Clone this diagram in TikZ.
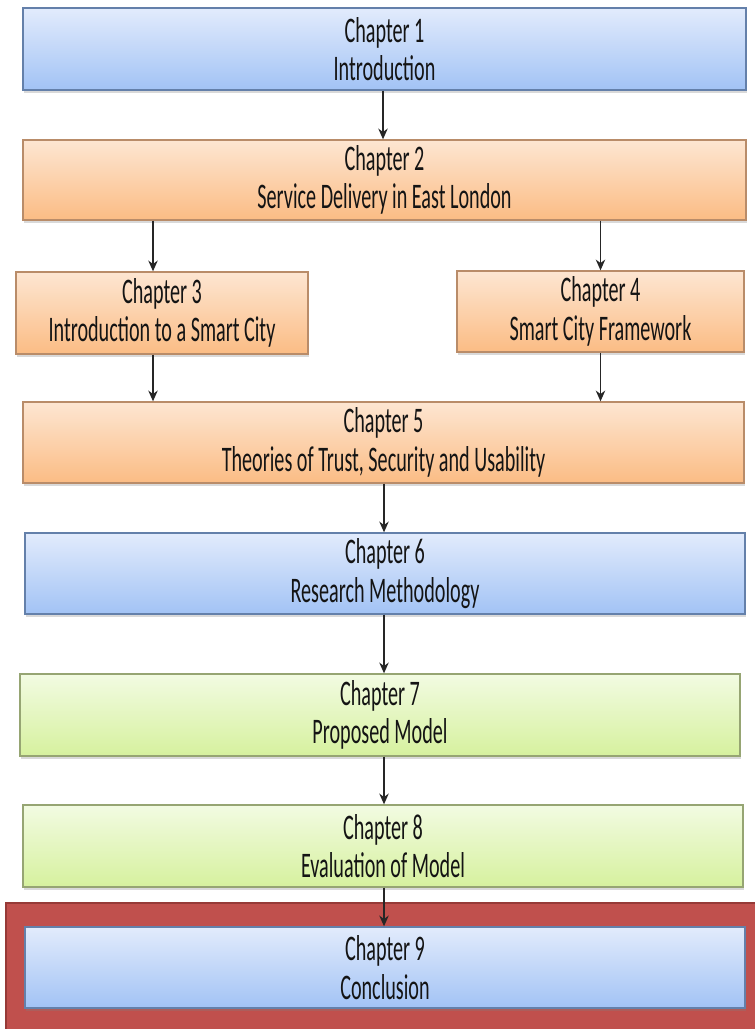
\documentclass[tikz,border=0pt]{standalone}
\usepackage{fontspec}
\newfontfamily\chapfont{Carlito}[FakeStretch=0.56]
\usetikzlibrary{calc,shadows,arrows.meta}

\definecolor{blueTop}{RGB}{226,235,252}
\definecolor{blueBot}{RGB}{162,195,245}
\definecolor{blueEdge}{RGB}{100,128,170}
\definecolor{orangeTop}{RGB}{253,230,210}
\definecolor{orangeBot}{RGB}{251,188,132}
\definecolor{orangeEdge}{RGB}{185,140,105}
\definecolor{greenTop}{RGB}{242,251,226}
\definecolor{greenBot}{RGB}{214,241,158}
\definecolor{greenEdge}{RGB}{150,165,115}
\definecolor{frameRed}{RGB}{192,80,77}
\definecolor{frameEdge}{RGB}{150,58,55}

\tikzset{
    chapbox/.style={rectangle, line width=1pt, align=center,
        font=\chapfont\fontsize{27}{29}\selectfont, text=black!92,
        drop shadow={shadow xshift=1pt, shadow yshift=-2.5pt, opacity=0.3}},
    bluebox/.style={chapbox, draw=blueEdge, top color=blueTop, bottom color=blueBot},
    orangebox/.style={chapbox, draw=orangeEdge, top color=orangeTop, bottom color=orangeBot},
    greenbox/.style={chapbox, draw=greenEdge, top color=greenTop, bottom color=greenBot},
    link/.style={-{Stealth[length=8pt, width=7pt, inset=2.5pt]}, line width=1.4pt, color=black!85}
}

\begin{document}
\begin{tikzpicture}[x=0.75pt, y=-0.75pt]
        \useasboundingbox (0,0) rectangle (754,1029);

        % red frame round the last chapter
        \draw[line width=1.5pt, draw=frameEdge, fill=frameRed] (6,903) rectangle (770,1045);

        \node[bluebox, minimum width=542.25pt, minimum height=61.5pt] (ch1) at (384.5,49) {Chapter 1\\Introduction};
        \node[orangebox, minimum width=542.25pt, minimum height=60pt] (ch2) at (384.5,180) {Chapter 2\\Service Delivery in East London};
        \node[orangebox, minimum width=219pt, minimum height=61.5pt] (ch3) at (162,313) {Chapter 3\\Introduction to a Smart City};
        \node[orangebox, minimum width=215.25pt, minimum height=60.75pt] (ch4) at (600.5,311.5) {Chapter 4\\Smart City Framework};
        \node[orangebox, minimum width=540.75pt, minimum height=60.75pt] (ch5) at (383.5,442.5) {Chapter 5\\Theories of Trust, Security and Usability};
        \node[bluebox, minimum width=540pt, minimum height=60.75pt] (ch6) at (385,573.5) {Chapter 6\\Research Methodology};
        \node[greenbox, minimum width=540pt, minimum height=61.5pt] (ch7) at (380,715) {Chapter 7\\Proposed Model};
        \node[greenbox, minimum width=540pt, minimum height=61.5pt] (ch8) at (383,846) {Chapter 8\\Evaluation of Model};
        \node[bluebox, minimum width=540pt, minimum height=60.75pt] (ch9) at (385,967.5) {Chapter 9\\Conclusion};

        \draw[link] (ch1.south -| 383,0) -- (ch2.north -| 383,0);
        \draw[link] ($(ch3.north |- ch2.south)+(-9,0)$) -- ($(ch3.north)+(-9,0)$);
        \draw[link] (ch4.north |- ch2.south) -- (ch4.north);
        \draw[link] ($(ch3.south)+(-9,0)$) -- ($(ch3.south |- ch5.north)+(-9,0)$);
        \draw[link] (ch4.south) -- (ch4.south |- ch5.north);
        \draw[link] (ch5.south -| 384,0) -- (ch6.north -| 384,0);
        \draw[link] (ch6.south -| 384,0) -- (ch7.north -| 384,0);
        \draw[link] (ch7.south -| 384,0) -- (ch8.north -| 384,0);
        \draw[link] (ch8.south -| 384,0) -- (ch9.north -| 384,0);
    \end{tikzpicture}
\end{document}
